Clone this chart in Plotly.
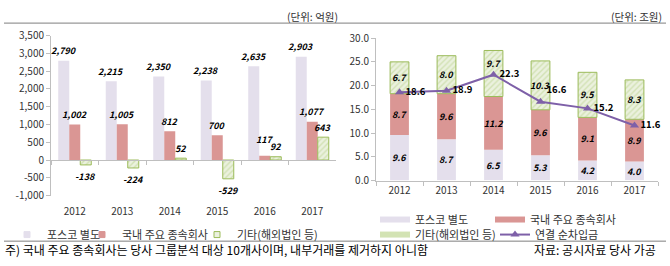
import plotly.graph_objects as go

# ---------------- data ----------------
years = ['2012', '2013', '2014', '2015', '2016', '2017']

# left chart (단위: 억원)
posco_sep = [2790, 2215, 2350, 2238, 2635, 2903]
domestic_sub = [1002, 1005, 812, 700, 117, 1077]
others = [-138, -224, 52, -529, 92, 643]

# right chart (단위: 조원)
posco_debt = [9.6, 8.7, 6.5, 5.3, 4.2, 4.0]
domestic_debt = [8.7, 9.6, 11.2, 9.6, 9.1, 8.9]
others_debt = [6.7, 8.0, 9.7, 10.3, 9.5, 8.3]
net_debt = [18.6, 18.9, 22.3, 16.6, 15.2, 11.6]

left_tickvals = [-1000, -500, 0, 500, 1000, 1500, 2000, 2500, 3000, 3500]
left_ticktext = ['-1,000', '-500', '0', '500', '1,000', '1,500', '2,000', '2,500', '3,000', '3,500']
right_tickvals = [0, 5, 10, 15, 20, 25, 30]

names = ['포스코 별도', '국내 주요 종속회사', '기타(해외법인 등)', '연결 순차입금']
unit_left = '(단위: 억원)'
unit_right = '(단위: 조원)'
note_text = '주) 국내 주요 종속회사는 당사 그룹분석 대상 10개사이며, 내부거래를 제거하지 아니함'
source_text = '자료: 공시자료 당사 가공'

# ---------------- styles ----------------
FONT = 'Noto Sans CJK KR, Noto Sans, sans-serif'
C_POSCO = '#E4DFEC'
C_DOM = '#DA9694'
C_OTH = '#EBF1DE'
C_OTH_FG = '#B9D28A'
C_OTH_LINE = '#9BBB59'
C_LINE = '#7E60A8'
C_AXIS = '#BFBFBF'
C_TEXT = '#333333'

W, H = 670, 266
def px_x(p):
    return p / W
def px_y(p):
    return 1 - p / H

L_DOM_X = [px_x(51), px_x(336)]
L_DOM_Y = [px_y(198.5), px_y(28.3)]
R_DOM_X = [px_x(376), px_x(658)]
R_DOM_Y = [px_y(182.5), px_y(31)]
L_RANGE = [-1000, 3500]
CAT_RANGE = [-0.5, len(years) - 0.5]
zero_pos = L_DOM_Y[0] + (0 - L_RANGE[0]) / (L_RANGE[1] - L_RANGE[0]) * (L_DOM_Y[1] - L_DOM_Y[0])

fig = go.Figure()

# ---------- left: grouped bars ----------
left_series = [posco_sep, domestic_sub, others]
fig.add_trace(go.Bar(x=years, y=posco_sep, name=names[0], marker=dict(color=C_POSCO, line=dict(width=0)),
                     xaxis='x', yaxis='y', showlegend=False))
fig.add_trace(go.Bar(x=years, y=domestic_sub, name=names[1], marker=dict(color=C_DOM, line=dict(width=0)),
                     xaxis='x', yaxis='y', showlegend=False))
fig.add_trace(go.Bar(x=years, y=others, name=names[2],
                     marker=dict(color=C_OTH, line=dict(color=C_OTH_LINE, width=1),
                                 pattern=dict(shape='/', fgcolor=C_OTH_FG, size=4, solidity=0.35)),
                     xaxis='x', yaxis='y', showlegend=False))

# left legend entries (small squares)
leg_left = [('legend', C_POSCO, None), ('legend2', C_DOM, None), ('legend3', C_OTH, C_OTH_LINE)]
for (lg, col, lc), nm in zip(leg_left, names[:3]):
    fig.add_trace(go.Scatter(x=[None], y=[None], mode='markers', name=nm, legend=lg,
                             marker=dict(symbol='square', size=6, color=col,
                                         line=dict(color=lc or col, width=1)),
                             xaxis='x', yaxis='y', hoverinfo='skip'))

# left labels (x given as category index)
LBL_FONT = dict(family=FONT, size=9, color='#000000', style='italic', weight='bold')
bar_px = 11.0
for t, series in enumerate(left_series):
    for i, v in enumerate(series):
        ys = 10 if v >= 0 else -12
        if t == 1 and i == 4:
            ys = 16
        fig.add_annotation(x=i, y=v, xref='x', yref='y', text=f'{v:,}', showarrow=False,
                           xshift=(t - 1) * bar_px, yshift=ys, font=LBL_FONT)

# ---------- right: stacked bars + line ----------
base_dom = [a for a in posco_debt]
base_oth = [a + b for a, b in zip(posco_debt, domestic_debt)]
right_bars = [(posco_debt, [0] * len(years), dict(color=C_POSCO, line=dict(width=0)), True),
              (domestic_debt, base_dom, dict(color=C_DOM, line=dict(width=0)), True),
              (others_debt, base_oth, dict(color=C_OTH, line=dict(color=C_OTH_LINE, width=1),
                                          pattern=dict(shape='/', fgcolor=C_OTH_FG, size=4, solidity=0.35)),
               False)]
for (vals, base, mk, with_text), nm in zip(right_bars, names[:3]):
    extra = {}
    if with_text:
        extra = dict(text=[f'{v:.1f}' for v in vals], textposition='inside',
                     insidetextanchor='middle', constraintext='none', textangle=0,
                     insidetextfont=LBL_FONT)
    fig.add_trace(go.Bar(x=years, y=vals, base=base, name=nm, marker=mk, offsetgroup='r',
                         width=0.4, offset=-0.2, xaxis='x2', yaxis='y2', showlegend=False, **extra))

# labels of the top segment (2014 label lifted above the line, as in the original)
for i, (v, b) in enumerate(zip(others_debt, base_oth)):
    fig.add_annotation(x=i, y=b + v / 2, xref='x2', yref='y2', text=f'{v:.1f}', showarrow=False,
                       yshift=10 if i == 2 else 0, font=LBL_FONT)

line_text_pos = ['middle right', 'middle right', 'middle right', 'top right', 'middle right', 'middle right']
fig.add_trace(go.Scatter(x=years, y=net_debt, name=names[3], mode='lines+markers+text',
                         line=dict(color=C_LINE, width=2),
                         marker=dict(symbol='triangle-up', size=8, color=C_LINE),
                         text=[f'{v:.1f}' for v in net_debt], textposition=line_text_pos,
                         textfont=dict(family=FONT, size=9.5, color='#000000', weight='bold'),
                         cliponaxis=False, xaxis='x2', yaxis='y2', legend='legend7'))

# right legend entries (wide swatches)
leg_right = [('legend4', '#E4DFEC'), ('legend5', C_DOM), ('legend6', '#D3E3B4')]
for (lg, col), nm in zip(leg_right, names[:3]):
    fig.add_trace(go.Scatter(x=[None], y=[None], mode='lines', name=nm, legend=lg,
                             line=dict(color=col, width=6), xaxis='x2', yaxis='y2', hoverinfo='skip'))

# ---------- layout ----------
def legend_at(text_x, text_y):
    return dict(x=px_x(text_x - 40), y=px_y(text_y), xanchor='left', yanchor='middle',
                orientation='h', bgcolor='rgba(0,0,0,0)', borderwidth=0,
                font=dict(family=FONT, size=11, color=C_TEXT), itemwidth=30)

axis_common = dict(showgrid=False, zeroline=False, showline=True, linecolor=C_AXIS, linewidth=1,
                   ticks='outside', ticklen=4, tickcolor=C_AXIS,
                   tickfont=dict(family=FONT, size=10, color=C_TEXT), fixedrange=True)

fig.update_layout(
    width=W, height=H, autosize=False,
    margin=dict(l=0, r=0, t=0, b=0),
    paper_bgcolor='white', plot_bgcolor='white',
    font=dict(family=FONT, size=10, color=C_TEXT),
    barmode='group', bargap=0.305, bargroupgap=0,
    showlegend=True,
    xaxis=dict(axis_common, domain=L_DOM_X, anchor='free', position=zero_pos, type='category',
               categoryorder='array', categoryarray=years, tickson='boundaries',
               range=CAT_RANGE, autorange=False, tickangle=0, ticklabelstandoff=42),
    yaxis=dict(axis_common, domain=L_DOM_Y, anchor='x', range=L_RANGE, autorange=False,
               tickvals=left_tickvals, ticktext=left_ticktext),
    xaxis2=dict(axis_common, domain=R_DOM_X, anchor='y2', type='category',
                categoryorder='array', categoryarray=years, tickson='boundaries',
                range=CAT_RANGE, autorange=False, tickangle=0),
    yaxis2=dict(axis_common, domain=R_DOM_Y, anchor='x2', range=[0, 30], autorange=False,
                tickvals=right_tickvals, tickformat='.1f'),
    legend=legend_at(47, 240),
    legend2=legend_at(122, 240),
    legend3=legend_at(237, 240),
    legend4=legend_at(415, 224),
    legend5=legend_at(530, 224),
    legend6=legend_at(415, 240),
    legend7=legend_at(535, 240),
)

# frame lines
for yy in (15, 247):
    fig.add_shape(type='line', xref='paper', yref='paper', x0=px_x(4), x1=px_x(666),
                  y0=px_y(yy), y1=px_y(yy), line=dict(color='#7F7F7F', width=1))

TXT_FONT = dict(family=FONT, size=10.5, color=C_TEXT)
fig.add_annotation(xref='paper', yref='paper', x=px_x(340), y=px_y(8), xanchor='right', yanchor='middle',
                   text=unit_left, showarrow=False, font=TXT_FONT)
fig.add_annotation(xref='paper', yref='paper', x=px_x(664), y=px_y(8), xanchor='right', yanchor='middle',
                   text=unit_right, showarrow=False, font=TXT_FONT)
fig.add_annotation(xref='paper', yref='paper', x=px_x(3), y=px_y(256), xanchor='left', yanchor='middle',
                   text=note_text, showarrow=False, font=dict(family=FONT, size=12, color='#000000'))
fig.add_annotation(xref='paper', yref='paper', x=px_x(658), y=px_y(256), xanchor='right', yanchor='middle',
                   text=source_text, showarrow=False, font=dict(family=FONT, size=12, color='#000000'))

fig.write_html('out.html')
